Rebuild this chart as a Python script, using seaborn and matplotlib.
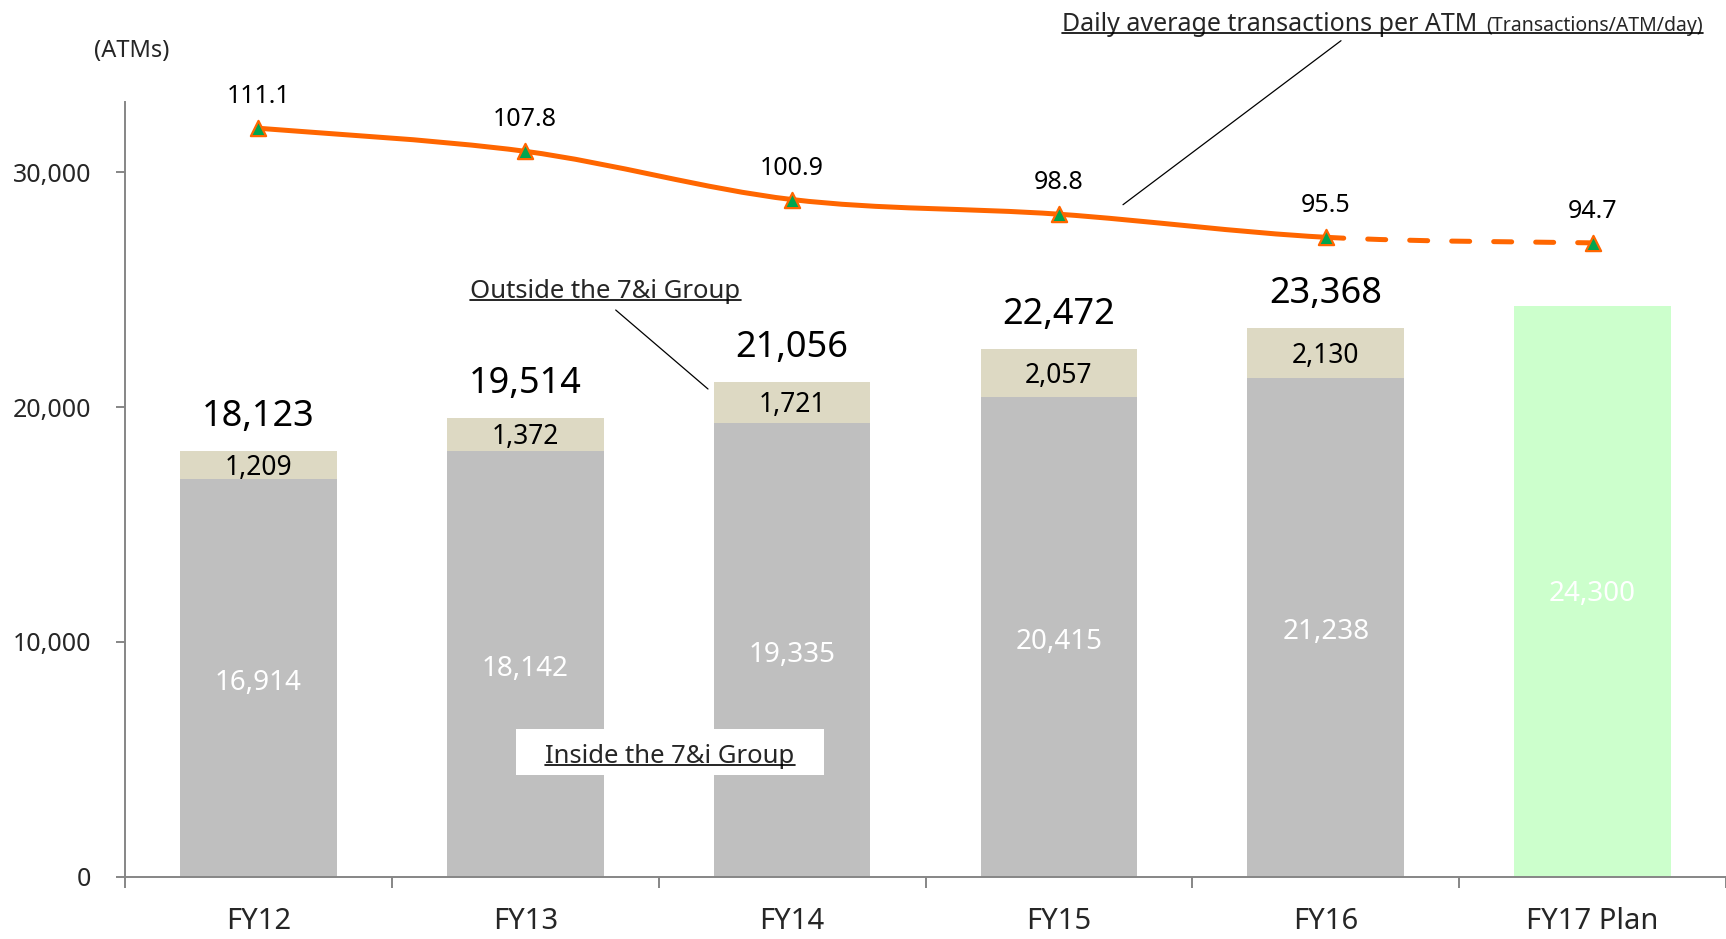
import numpy as np
import matplotlib
matplotlib.use("Agg")
import matplotlib.pyplot as plt
import seaborn as sns
from matplotlib.path import Path
from matplotlib.patches import PathPatch, Rectangle
from matplotlib.lines import Line2D
from matplotlib.transforms import IdentityTransform

# ---------------- data ----------------
categories = ["FY12", "FY13", "FY14", "FY15", "FY16", "FY17 Plan"]
inside_group = [16914, 18142, 19335, 20415, 21238]
outside_group = [1209, 1372, 1721, 2057, 2130]
total_atms = [18123, 19514, 21056, 22472, 23368, 24300]
daily_tx = [111.1, 107.8, 100.9, 98.8, 95.5, 94.7]
y_ticks = [0, 10000, 20000, 30000]

# ---------------- style ----------------
sns.set_style("white")
plt.rcParams['font.family'] = ['Noto Sans', 'DejaVu Sans']

GRAY = "#bfbfbf"
BEIGE = "#ddd9c3"
GREEN_BAR = "#ccffcc"
ORANGE = "#ff6600"
MARK_GREEN = "#00a550"
AXIS = "#868686"

W, H = 1726, 939
fig = plt.figure(figsize=(W / 100, H / 100), dpi=100)
fx = lambda x: x / W
fy = lambda y: 1 - y / H

ax = fig.add_axes([fx(125), fy(876.7), 1 - fx(125), (876.7 - 101.7) / H])

bw = 0.587
n_hist = len(inside_group)
sns.barplot(x=categories, y=total_atms, hue=categories,
            palette=[BEIGE] * n_hist + [GREEN_BAR], legend=False,
            width=bw, saturation=1, errorbar=None, linewidth=0, ax=ax)
sns.barplot(x=categories[:n_hist], y=inside_group, order=categories,
            color=GRAY, width=bw, saturation=1, errorbar=None, linewidth=0, ax=ax)

ax.set_xlim(-0.5, 5.5)
ax.set_ylim(0, 33000)
ax.set_xlabel("")
ax.set_ylabel("")
for s in ["top", "right"]:
    ax.spines[s].set_visible(False)
for s in ["left", "bottom"]:
    ax.spines[s].set_color(AXIS)
    ax.spines[s].set_linewidth(1.4)

ax.set_yticks(y_ticks)
ax.set_yticklabels([f"{v:,}" for v in y_ticks])
ax.tick_params(axis='y', left=True, length=6.5, width=1.4, color=AXIS,
               pad=18, labelsize=18, direction='out')
ax.set_xticks(range(len(categories)))
ax.set_xticklabels(categories)
ax.tick_params(axis='x', which='major', length=0, pad=22, labelsize=21)
ax.set_xticks(np.arange(-0.5, len(categories), 1.0), minor=True)
ax.tick_params(axis='x', which='minor', bottom=True, length=7.7, width=1.4,
               color=AXIS, direction='out')

# bar labels
for i in range(n_hist):
    ax.annotate(f"{total_atms[i]:,}", (i, total_atms[i]), xytext=(0, 18),
                textcoords='offset points', ha='center', va='baseline',
                fontsize=26, color='black')
    ax.annotate(f"{outside_group[i]:,}", (i, inside_group[i] + outside_group[i] / 2),
                xytext=(0, -2), textcoords='offset points',
                ha='center', va='center', fontsize=19, fontweight='bold',
                color='black')
    ax.annotate(f"{inside_group[i]:,}", (i, inside_group[i] / 2), xytext=(0, -3.5),
                textcoords='offset points', ha='center',
                va='center', fontsize=20, color='white')
ax.annotate(f"{total_atms[-1]:,}", (len(categories) - 1, total_atms[-1] / 2),
            xytext=(0, -2), textcoords='offset points',
            ha='center', va='center', fontsize=20, color='white')

# ---------------- line on secondary axis ----------------
ax2 = ax.twinx()
ax2.set_ylim(4.0, 114.9)
ax2.axis('off')

xs = np.arange(len(daily_tx), dtype=float)
P = np.column_stack([xs, np.array(daily_tx)])


def bez(i):
    p0 = P[max(i - 1, 0)]
    p1 = P[i]
    p2 = P[i + 1]
    p3 = P[min(i + 2, len(P) - 1)]
    c1 = p1 + (p2 - p0) / 6.0
    c2 = p2 - (p3 - p1) / 6.0
    return [c1, c2, p2]


solid_v = [P[0]]
solid_c = [Path.MOVETO]
for i in range(len(P) - 2):
    solid_v += bez(i)
    solid_c += [Path.CURVE4] * 3
dash_v = [P[-2]] + bez(len(P) - 2)
dash_c = [Path.MOVETO] + [Path.CURVE4] * 3

ax2.add_patch(PathPatch(Path(solid_v, solid_c), fill=False, edgecolor=ORANGE,
                        linewidth=3.6, capstyle='round', joinstyle='round', zorder=3))
ax2.add_patch(PathPatch(Path(dash_v, dash_c), fill=False, edgecolor=ORANGE,
                        linewidth=3.6, linestyle=(0, (3.6, 4.8)), capstyle='round',
                        zorder=3))
sns.scatterplot(x=xs, y=daily_tx, marker='^', s=120, color=MARK_GREEN,
                edgecolor=ORANGE, linewidth=1.6, ax=ax2, zorder=5, legend=False)
for i, v in enumerate(daily_tx):
    ax2.annotate(f"{v:.1f}", (xs[i], v), xytext=(0, 18), textcoords='offset points',
                 ha='center', va='baseline', fontsize=18, color='black')

# ---------------- annotations ----------------
fig.text(fx(131.5), fy(50.7), "(ATMs)", ha='center', va='center', fontsize=17)

t1 = fig.text(fx(1062), fy(30.7), "Daily average transactions per ATM",
              ha='left', va='baseline', fontsize=18)
t_out = fig.text(fx(605.5), fy(298), "Outside the 7&i Group", ha='center',
                 va='baseline', fontsize=18.5)
fig.add_artist(Rectangle((fx(516), fy(774.7)), (824 - 516) / W, (774.7 - 729) / H,
                         transform=fig.transFigure, facecolor='white',
                         edgecolor='none', zorder=2))
t_in = fig.text(fx(670), fy(762.7), "Inside the 7&i Group", ha='center',
                va='baseline', fontsize=18.5, zorder=3)

fig.add_artist(Line2D([fx(615.7), fx(708)], [fy(310), fy(389)],
                      transform=fig.transFigure, color='black', lw=0.9))
fig.add_artist(Line2D([fx(1341), fx(1123)], [fy(40.7), fy(204.7)],
                      transform=fig.transFigure, color='black', lw=0.9))

fig.canvas.draw()
r = fig.canvas.get_renderer()
bb1 = t1.get_window_extent(r)
t2 = fig.text((bb1.x1 + 9) / W, fy(30.7), "(Transactions/ATM/day)", ha='left',
              va='baseline', fontsize=14)
fig.canvas.draw()


def underline(texts, off=2.3, zorder=4):
    bbs = [t.get_window_extent(r) for t in texts]
    x0 = min(b.x0 for b in bbs)
    x1 = max(b.x1 for b in bbs)
    base = texts[0].get_transform().transform(texts[0].get_position())[1]
    fig.add_artist(Line2D([x0, x1], [base - off, base - off],
                          transform=IdentityTransform(), color='black',
                          lw=1.2, zorder=zorder))


underline([t1, t2])
underline([t_out])
underline([t_in])

fig.savefig("out.png", dpi=100)
